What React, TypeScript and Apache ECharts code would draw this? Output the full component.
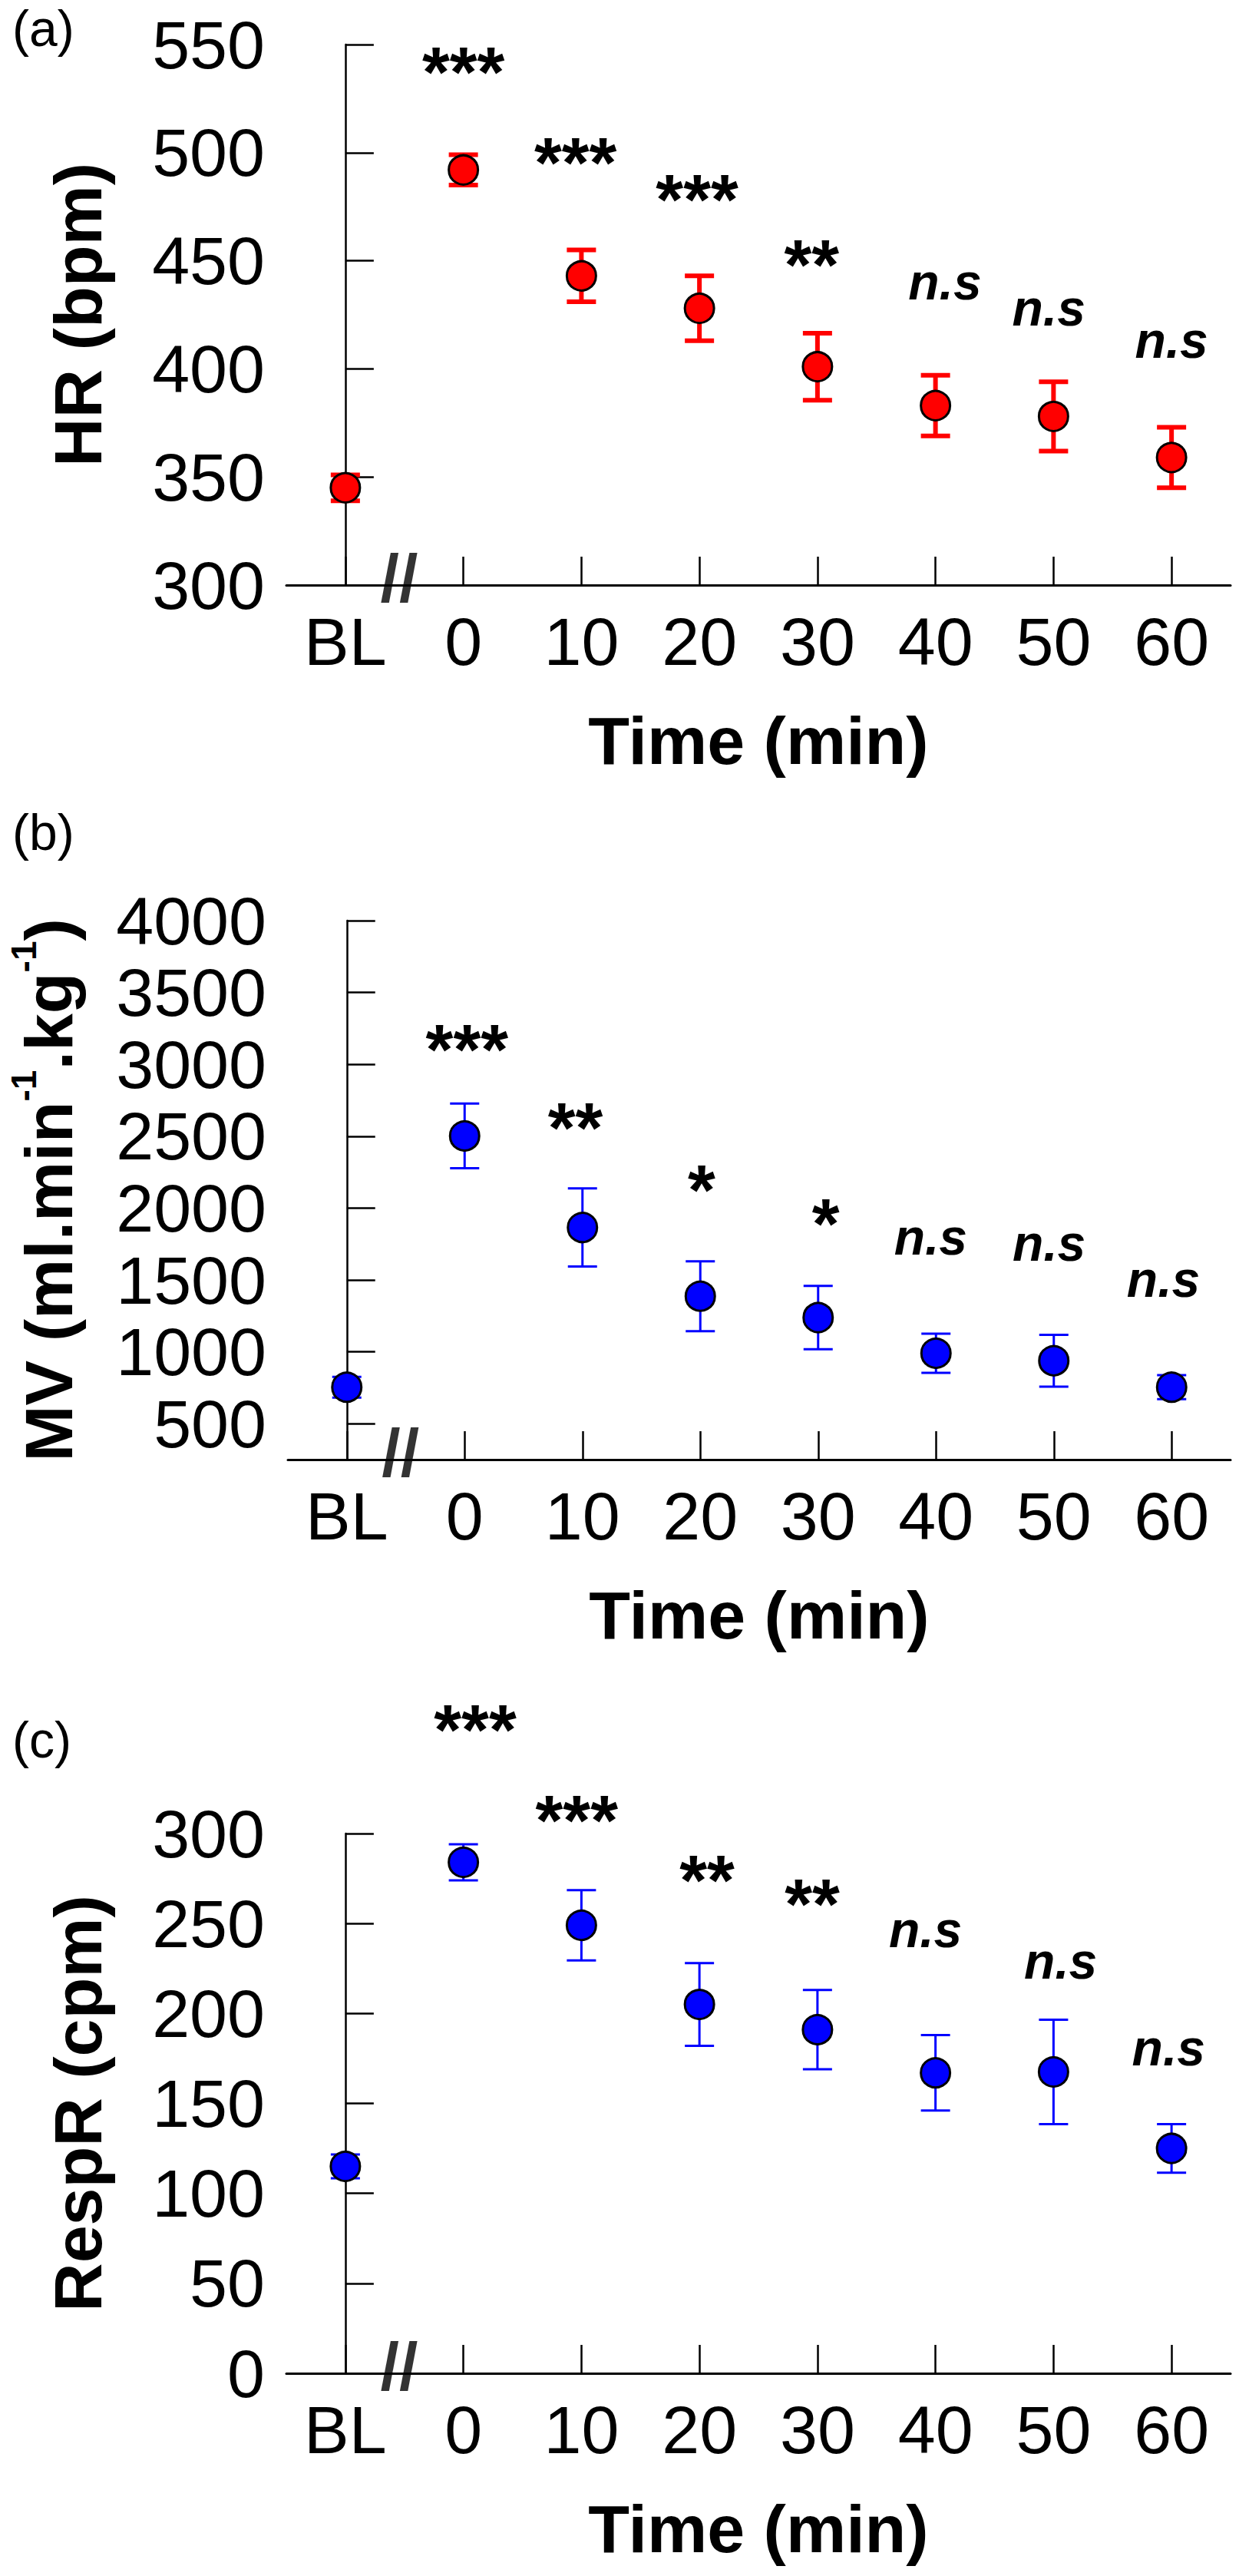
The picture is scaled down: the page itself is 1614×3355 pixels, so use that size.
import React, { useEffect, useRef } from 'react';
import * as echarts from 'echarts';

// ---------- data ----------
const categories = ['BL', '0', '10', '20', '30', '40', '50', '60'];

// (a) heart rate
const hrMean = [345, 492, 443, 428, 401, 383, 378, 359];
const hrErr = [6, 7, 12, 15, 15.5, 14, 16, 14];
const hrTicks = [300, 350, 400, 450, 500, 550];
const hrSig = ['***', '***', '***', '**', 'n.s', 'n.s', 'n.s'];
const hrSigX = [1.0, 1.95, 2.98, 3.95, 5.08, 5.96, 7.0];
const hrSigY = [544, 502, 485, 455, 438, 426, 411];

// (b) minute ventilation
const mvMean = [754, 2502, 1865, 1387, 1238, 990, 938, 754];
const mvErr = [72, 225, 272, 243, 220, 136, 180, 83];
const mvTicks = [500, 1000, 1500, 2000, 2500, 3000, 3500, 4000];
const mvSig = ['***', '**', '*', '*', 'n.s', 'n.s', 'n.s'];
const mvSigX = [1.02, 1.94, 3.01, 4.065, 4.955, 5.96, 6.93];
const mvSigY = [3205, 2661, 2229, 1994, 1765, 1727, 1471];

// (c) respiratory rate
const rrMean = [115, 284, 249, 205, 191, 167, 167.5, 125];
const rrErr = [6.6, 10, 19.5, 23, 22, 21, 29, 13.5];
const rrTicks = [0, 50, 100, 150, 200, 250, 300];
const rrSig = ['***', '***', '**', '**', 'n.s', 'n.s', 'n.s'];
const rrSigX = [1.1, 1.96, 3.065, 3.955, 4.915, 6.06, 6.975];
const rrSigY = [365.6, 315.4, 282.1, 268.9, 244.1, 226.6, 178.4];

const breakX = 0.456;

// ---------- styles ----------
const FONT = "'Liberation Sans', Arial, Helvetica, sans-serif";
const RED = '#ff0000';
const BLUE = '#0000ff';

type PanelCfg = {
  top: number;
  height: number;
  mean: number[];
  err: number[];
  ticks: number[];
  min: number;
  max: number;
  sig: string[];
  sigX: number[];
  sigY: number[];
  color: string;
  barWidth: number;
  yName: string;
  yNameGap: number;
  yRich?: any;
};

function buildPanel(k: number, c: PanelCfg) {
  const grid = { left: 373, width: 1230, top: c.top, height: c.height, containLabel: false };
  const xCat = {
    type: 'category',
    gridIndex: k,
    data: categories,
    boundaryGap: true,
    axisLine: { show: true, lineStyle: { color: '#000', width: 3 } },
    axisTick: { show: true, inside: true, length: 37, alignWithLabel: true, lineStyle: { color: '#000', width: 2.5 } },
    axisLabel: { show: true, margin: 29, color: '#000', fontSize: 88, fontFamily: FONT, interval: 0 },
    splitLine: { show: false },
    name: 'Time (min)',
    nameLocation: 'middle',
    nameGap: 158,
    nameTextStyle: { color: '#000', fontSize: 88, fontWeight: 'bold', fontFamily: FONT },
  };
  const xVal = {
    type: 'value',
    gridIndex: k,
    min: -0.5,
    max: 7.5,
    show: false,
  };
  const y: any = {
    type: 'value',
    gridIndex: k,
    min: c.min,
    max: c.max,
    axisLine: { show: true, lineStyle: { color: '#000', width: 2.5 } },
    axisTick: { show: true, inside: true, length: 37, lineStyle: { color: '#000', width: 2.5 }, customValues: c.ticks },
    axisLabel: {
      show: true,
      margin: 28,
      color: '#000',
      fontSize: 88,
      fontFamily: FONT,
      customValues: c.ticks,
      formatter: (v: number) => String(v),
    },
    splitLine: { show: false },
    name: c.yName,
    nameLocation: 'middle',
    nameRotate: 90,
    nameGap: c.yNameGap,
    nameTextStyle: { color: '#000', fontSize: 88, fontWeight: 'bold', fontFamily: FONT, rich: c.yRich },
  };

  const errData = c.mean.map((m, i) => [i, m, c.err[i]]);
  const lw = c.barWidth;
  const color = c.color;
  const errSeries = {
    type: 'custom',
    xAxisIndex: 2 * k,
    yAxisIndex: k,
    data: errData,
    encode: { x: 0, y: 1 },
    z: 2,
    renderItem: (params: any, api: any) => {
      const xi = api.value(0);
      const m = api.value(1);
      const e = api.value(2);
      const t = api.coord([xi, m + e]);
      const b = api.coord([xi, m - e]);
      const hw = 19;
      const st = { stroke: color, lineWidth: lw };
      return {
        type: 'group',
        children: [
          { type: 'line', shape: { x1: t[0], y1: t[1], x2: b[0], y2: b[1] }, style: st },
          { type: 'line', shape: { x1: t[0] - hw, y1: t[1], x2: t[0] + hw, y2: t[1] }, style: st },
          { type: 'line', shape: { x1: b[0] - hw, y1: b[1], x2: b[0] + hw, y2: b[1] }, style: st },
        ],
      };
    },
  };
  const markerSeries = {
    type: 'scatter',
    xAxisIndex: 2 * k,
    yAxisIndex: k,
    data: c.mean.map((m, i) => [i, m]),
    symbol: 'circle',
    symbolSize: 38,
    itemStyle: { color: color, borderColor: '#000', borderWidth: 3, opacity: 1 },
    z: 3,
  };
  const sigData = c.sig.map((s, i) => {
    const isNs = s === 'n.s';
    return {
      value: [c.sigX[i], c.sigY[i]],
      name: s,
      label: isNs
        ? { color: '#000', opacity: 1, fontSize: 66, fontWeight: 'bold', fontStyle: 'italic', offset: [0, -6] }
        : { color: '#000', opacity: 1, fontSize: 92, fontWeight: 'bold', fontStyle: 'normal', offset: [0, 19] },
    };
  });
  const sigSeries = {
    type: 'scatter',
    xAxisIndex: 2 * k + 1,
    yAxisIndex: k,
    clip: false,
    data: sigData,
    symbol: 'circle',
    symbolSize: 1,
    itemStyle: { color: 'rgba(255,255,255,0)' },
    label: {
      show: true,
      position: 'inside',
      formatter: '{b}',
      color: '#000',
      textBorderWidth: 0,
      fontFamily: FONT,
    },
    emphasis: { disabled: true },
    z: 4,
  };
  const breakSeries = {
    type: 'scatter',
    xAxisIndex: 2 * k + 1,
    yAxisIndex: k,
    clip: false,
    data: [{ value: [breakX, c.min], name: '//' }],
    symbol: 'circle',
    symbolSize: 1,
    itemStyle: { color: 'rgba(255,255,255,0)' },
    label: {
      show: true,
      position: 'inside',
      formatter: '{b}',
      color: '#000',
      textBorderWidth: 0,
      fontFamily: FONT,
      fontSize: 88,
      fontWeight: 'bold',
      offset: [0, -10],
    },
    emphasis: { disabled: true },
    z: 5,
  };
  return {
    grid,
    xAxes: [xCat, xVal],
    yAxis: y,
    series: [errSeries, markerSeries, sigSeries, breakSeries],
  };
}

export default function App() {
  const ref = useRef<HTMLDivElement>(null);
  useEffect(() => {
    if (!ref.current) return;
    const chart = echarts.init(ref.current, undefined, { renderer: 'svg' });
    const panels = [
      buildPanel(0, {
        top: 58, height: 704, mean: hrMean, err: hrErr, ticks: hrTicks, min: 300, max: 550,
        sig: hrSig, sigX: hrSigX, sigY: hrSigY, color: RED, barWidth: 6,
        yName: 'HR (bpm)', yNameGap: 228,
      }),
      buildPanel(1, {
        top: 1199, height: 702, mean: mvMean, err: mvErr, ticks: mvTicks, min: 250, max: 4000,
        sig: mvSig, sigX: mvSigX, sigY: mvSigY, color: BLUE, barWidth: 3,
        yName: '{m|MV (ml.min}{s|-1}{m|.kg}{s|-1}{m|)}', yNameGap: 257,
        yRich: {
          m: { fontSize: 88, fontWeight: 'bold', fontFamily: FONT, color: '#000', lineHeight: 110, verticalAlign: 'middle' },
          s: { fontSize: 46, fontWeight: 'bold', fontFamily: FONT, color: '#000', lineHeight: 46, verticalAlign: 'top' },
        },
      }),
      buildPanel(2, {
        top: 2388, height: 703, mean: rrMean, err: rrErr, ticks: rrTicks, min: 0, max: 300,
        sig: rrSig, sigX: rrSigX, sigY: rrSigY, color: BLUE, barWidth: 3,
        yName: 'RespR (cpm)', yNameGap: 228,
      }),
    ];
    const panelLabel = (txt: string, y: number) => ({
      type: 'text',
      x: 16,
      y,
      style: {
        text: txt,
        fill: '#000',
        font: `66px ${FONT}`,
        lineHeight: 66,
        textAlign: 'left',
        textVerticalAlign: 'middle',
      },
    });
    chart.setOption({
      animation: false,
      backgroundColor: '#ffffff',
      grid: panels.map((p) => p.grid),
      xAxis: panels.flatMap((p) => p.xAxes),
      yAxis: panels.map((p) => p.yAxis),
      series: panels.flatMap((p) => p.series),
      graphic: [panelLabel('(a)', 37), panelLabel('(b)', 1084), panelLabel('(c)', 2266)],
    });
    return () => chart.dispose();
  }, []);
  return (
    <div
      ref={ref}
      style={{ position: 'absolute', left: 0, top: 0, width: 1614, height: 3355, background: '#fff' }}
    />
  );
}
